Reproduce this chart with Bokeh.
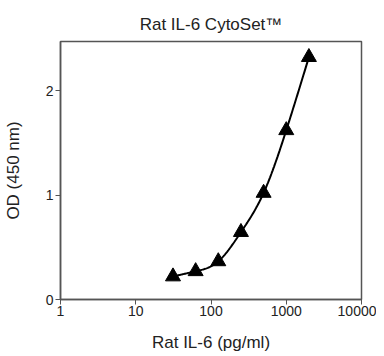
import numpy as np
from bokeh.plotting import figure
from bokeh.models import FixedTicker, Range1d, Title
from bokeh.embed import file_html
from bokeh.resources import INLINE

conc = [31.25, 62.5, 125, 250, 500, 1000, 2000]
od = [0.22, 0.27, 0.365, 0.645, 1.02, 1.62, 2.32]
x_ticks = [1, 10, 100, 1000, 10000]
y_ticks = [0, 1, 2]

# natural cubic spline through points in log10(x)
def spline(xs, ys, n=200):
    xs = np.asarray(xs, float); ys = np.asarray(ys, float)
    m = len(xs); h = np.diff(xs)
    A = np.zeros((m, m)); b = np.zeros(m)
    A[0, 0] = A[-1, -1] = 1
    for i in range(1, m - 1):
        A[i, i - 1] = h[i - 1]; A[i, i] = 2 * (h[i - 1] + h[i]); A[i, i + 1] = h[i]
        b[i] = 3 * ((ys[i + 1] - ys[i]) / h[i] - (ys[i] - ys[i - 1]) / h[i - 1])
    c = np.linalg.solve(A, b)
    xx = np.linspace(xs[0], xs[-1], n); yy = np.empty_like(xx)
    for k, t in enumerate(xx):
        i = min(np.searchsorted(xs, t, side="right") - 1, m - 2)
        bb = (ys[i + 1] - ys[i]) / h[i] - h[i] * (2 * c[i] + c[i + 1]) / 3
        d = (c[i + 1] - c[i]) / (3 * h[i]); dx = t - xs[i]
        yy[k] = ys[i] + bb * dx + c[i] * dx ** 2 + d * dx ** 3
    return 10 ** xx, yy

cx, cy = spline(np.log10(conc), od)

FONT = "Liberation Sans"
p = figure(width=376, height=354, x_axis_type="log", output_backend="svg",
           toolbar_location=None, x_range=Range1d(1, 10000), y_range=Range1d(0, 2.47),
           min_border_left=58, min_border_right=15, min_border_top=41, min_border_bottom=53)
p.title = Title(text="Rat IL-6 CytoSet™", align="center", text_font=FONT,
                text_font_size="17px", text_font_style="normal", text_color="#222222",
                standoff=16)
p.line(cx, cy, line_color="black", line_width=2)
p.scatter(conc, od, marker="triangle", size=15, fill_color="black", line_color="black")

p.grid.visible = False
p.outline_line_color = "#555555"
p.outline_line_width = 1.5
for ax in (p.xaxis[0], p.yaxis[0]):
    ax.axis_line_color = "#555555"
    ax.axis_line_width = 1.5
    ax.major_tick_line_color = "#555555"
    ax.major_tick_in = 0
    ax.major_tick_out = 5
    ax.minor_tick_line_color = None
    ax.major_label_text_font = FONT
    ax.major_label_text_font_size = "14px"
    ax.major_label_text_color = "#222222"
    ax.axis_label_text_font = FONT
    ax.axis_label_text_font_size = "17px"
    ax.axis_label_text_font_style = "normal"
    ax.axis_label_text_color = "#222222"
p.xaxis.ticker = FixedTicker(ticks=x_ticks)
p.yaxis.ticker = FixedTicker(ticks=y_ticks)
p.xaxis.major_label_overrides = {1: "1", 10: "10", 100: "100", 1000: "1000", 10000: "10000"}
p.xaxis.axis_label = "Rat IL-6 (pg/ml)"
p.yaxis.axis_label = "OD (450 nm)"
p.xaxis.major_label_standoff = 1
p.yaxis.major_label_standoff = 2
p.xaxis.axis_label_standoff = 14
p.yaxis.axis_label_standoff = 20

open("out.html", "w").write(file_html(p, INLINE))
